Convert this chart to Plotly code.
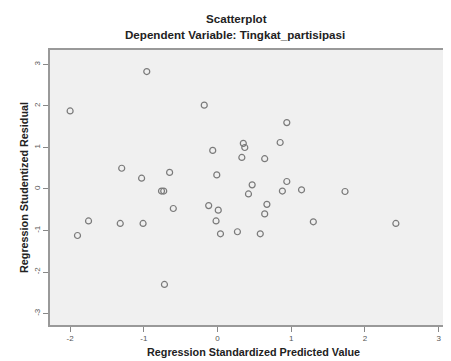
import plotly.graph_objects as go

# Regression Standardized Predicted Value
pred = [-2.00, -1.90, -1.75, -1.32, -1.30, -1.03, -1.01, -0.96, -0.76, -0.73,
        -0.72, -0.65, -0.60, -0.18, -0.12, -0.065, -0.02, -0.01, 0.01, 0.04,
        0.27, 0.33, 0.35, 0.37, 0.42, 0.47, 0.58, 0.64, 0.64, 0.67,
        0.85, 0.88, 0.94, 0.94, 1.14, 1.30, 1.73, 2.42]
# Regression Studentized Residual
resid = [1.88, -1.12, -0.77, -0.83, 0.50, 0.26, -0.83, 2.83, -0.05, -0.05,
         -2.30, 0.40, -0.47, 2.02, -0.40, 0.93, -0.77, 0.34, -0.51, -1.08,
         -1.03, 0.76, 1.10, 1.00, -0.12, 0.10, -1.08, -0.60, 0.73, -0.37,
         1.12, -0.05, 1.60, 0.18, -0.02, -0.79, -0.06, -0.83]

x_ticks = [-2, -1, 0, 1, 2, 3]
y_ticks = [-3, -2, -1, 0, 1, 2, 3]

# the page body has an 8px margin, so the figure sits at (8, 8)
OFF = 8
W, H = 451 - OFF, 361 - OFF
ML, MR, MT, MB = 50 - OFF, 0, 50 - OFF, 361 - 325
PH = H - MT - MB
PW = W - ML - MR

fig = go.Figure()
fig.add_trace(go.Scatter(
    x=pred, y=resid, mode="markers",
    marker=dict(symbol="circle-open", size=6, color="#7a7a7a",
                line=dict(width=1.2, color="#7a7a7a")),
    hoverinfo="x+y", showlegend=False))

tickfont = dict(family="Liberation Sans, Arial", size=8, color="#555555")
fig.update_xaxes(range=[-2.273, 3.168], tickvals=x_ticks,
                 ticktext=[str(v) for v in x_ticks],
                 ticks="outside", ticklen=5, tickcolor="#888888",
                 showgrid=False, zeroline=False,
                 showline=True, mirror=True, linecolor="#999999", linewidth=1.5,
                 tickfont=tickfont, automargin=False,
                 title=dict(text=""))
fig.update_yaxes(range=[-3.277, 3.349], tickvals=y_ticks,
                 ticktext=[str(v) for v in y_ticks],
                 ticks="outside", ticklen=5, tickcolor="#888888",
                 showgrid=False, zeroline=False,
                 showline=True, mirror=False, linecolor="#999999", linewidth=1.5,
                 tickangle=-90, tickfont=tickfont, automargin=False,
                 title=dict(text=""))

def px_x(px):
    return (px - OFF - ML) / PW

def px_y(py):
    return 1 - (py - OFF - MT) / PH

title_font = dict(family="Liberation Sans, Arial", size=11.6, color="#222222")
axis_font = dict(family="Liberation Sans, Arial", size=10.8, color="#222222")

fig.add_annotation(text="<b>Scatterplot</b>", xref="paper", yref="paper",
                   x=px_x(236), y=px_y(19), xanchor="center", yanchor="middle",
                   showarrow=False, font=title_font)
fig.add_annotation(text="<b>Dependent Variable: Tingkat_partisipasi</b>", xref="paper", yref="paper",
                   x=px_x(235), y=px_y(34), xanchor="center", yanchor="middle",
                   showarrow=False, font=title_font)
fig.add_annotation(text="<b>Regression Standardized Predicted Value</b>", xref="paper", yref="paper",
                   x=px_x(254), y=px_y(352), xanchor="center", yanchor="middle",
                   showarrow=False, font=axis_font)
fig.add_annotation(text="<b>Regression Studentized Residual</b>", xref="paper", yref="paper",
                   x=px_x(24), y=px_y(188), xanchor="center", yanchor="middle",
                   textangle=-90, showarrow=False, font=axis_font)

fig.update_layout(width=W, height=H, margin=dict(l=ML, r=MR, t=MT, b=MB),
                  plot_bgcolor="#f0f0f0", paper_bgcolor="white")

fig.write_html("out.html")
